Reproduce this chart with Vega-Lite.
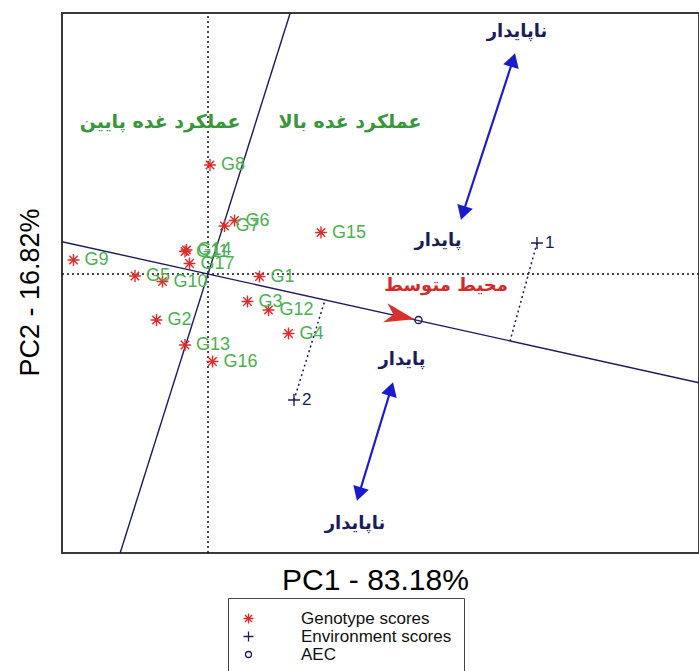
{
  "$schema": "https://vega.github.io/schema/vega-lite/v6.json",
  "width": 637,
  "height": 540,
  "autosize": {"type": "none"},
  "padding": {"left": 62, "top": 13, "right": 0, "bottom": 118},
  "background": "white",
  "config": {
    "view": {"stroke": "#3a3a3a", "strokeWidth": 2},
    "font": "Liberation Sans"
  },
  "datasets": {
    "points": [
      {"label": "G1", "x": 1.03, "y": -0.05, "type": "Genotype scores"},
      {"label": "G2", "x": -1.03, "y": -0.92, "type": "Genotype scores"},
      {"label": "G3", "x": 0.79, "y": -0.55, "type": "Genotype scores"},
      {"label": "G4", "x": 1.61, "y": -1.19, "type": "Genotype scores"},
      {"label": "G5", "x": -1.46, "y": -0.04, "type": "Genotype scores"},
      {"label": "G6", "x": 0.53, "y": 1.07, "type": "Genotype scores"},
      {"label": "G7", "x": 0.33, "y": 0.96, "type": "Genotype scores"},
      {"label": "G8", "x": 0.04, "y": 2.18, "type": "Genotype scores"},
      {"label": "G9", "x": -2.69, "y": 0.28, "type": "Genotype scores"},
      {"label": "G10", "x": -0.91, "y": -0.15, "type": "Genotype scores"},
      {"label": "G11", "x": -0.46, "y": 0.45, "type": "Genotype scores"},
      {"label": "G12", "x": 1.21, "y": -0.72, "type": "Genotype scores"},
      {"label": "G13", "x": -0.46, "y": -1.42, "type": "Genotype scores"},
      {"label": "G14", "x": -0.43, "y": 0.48, "type": "Genotype scores"},
      {"label": "G15", "x": 2.26, "y": 0.83, "type": "Genotype scores"},
      {"label": "G16", "x": 0.09, "y": -1.75, "type": "Genotype scores"},
      {"label": "G17", "x": -0.37, "y": 0.21, "type": "Genotype scores"},
      {"label": "1", "x": 6.58, "y": 0.62, "type": "Environment scores"},
      {"label": "2", "x": 1.72, "y": -2.52, "type": "Environment scores"},
      {"label": "", "x": 4.21, "y": -0.92, "type": "AEC"}
    ],
    "aecAxes": [
      {"line": "AEC abscissa", "x": -2.92, "y": 0.646, "x2": 9.82, "y2": -2.174},
      {"line": "AEC ordinate", "x": 1.644, "y": 5.22, "x2": -1.757, "y2": -5.58}
    ],
    "projections": [
      {"env": "1", "x": 6.58, "y": 0.62, "x2": 6.04, "y2": -1.34},
      {"env": "2", "x": 1.72, "y": -2.52, "x2": 2.34, "y2": -0.52}
    ],
    "origin": [
      {"line": "vertical", "x": 0, "y": -5.58, "x2": 0, "y2": 5.22},
      {"line": "horizontal", "x": -2.92, "y": 0, "x2": 9.82, "y2": 0}
    ],
    "arrows": [
      {"arrow": "upper", "x": 5.10, "y": 1.22, "x2": 6.10, "y2": 4.28},
      {"arrow": "lower", "x": 3.02, "y": -4.40, "x2": 3.66, "y2": -2.30}
    ],
    "stability": [
      {"text": "ناپایدار", "x": 6.18, "y": 4.84},
      {"text": "پایدار", "x": 4.60, "y": 0.66},
      {"text": "پایدار", "x": 3.88, "y": -1.72},
      {"text": "ناپایدار", "x": 2.94, "y": -5.00}
    ],
    "yieldNotes": [
      {"text": "عملکرد غده پایین", "x": -0.96, "y": 3.04},
      {"text": "عملکرد غده بالا", "x": 2.84, "y": 3.04}
    ],
    "meanNote": [
      {"text": "محیط متوسط", "x": 4.76, "y": -0.24}
    ],
    "aecArrow": [
      {"x": 3.84, "y": -0.84}
    ]
  },
  "encoding": {
    "x": {
      "field": "x", "type": "quantitative",
      "scale": {"domain": [-2.92, 9.82], "nice": false, "zero": false},
      "axis": {
        "title": "PC1 - 83.18%", "labels": false, "ticks": false, "domain": false, "grid": false,
        "titleFont": "Liberation Sans", "titleFontSize": 30, "titleFontWeight": "normal", "titleColor": "#000000",
        "titleX": 313, "titleY": 36, "titleBaseline": "alphabetic", "titleAlign": "center"
      }
    },
    "y": {
      "field": "y", "type": "quantitative",
      "scale": {"domain": [-5.58, 5.22], "nice": false, "zero": false},
      "axis": {
        "title": "PC2 - 16.82%", "labels": false, "ticks": false, "domain": false, "grid": false,
        "titleFont": "Liberation Sans", "titleFontSize": 27, "titleFontWeight": "normal", "titleColor": "#000000",
        "titleX": -24, "titleY": 279, "titleAngle": 270, "titleBaseline": "alphabetic", "titleAlign": "center"
      }
    }
  },
  "layer": [
    {
      "data": {"name": "origin"},
      "mark": {"type": "rule", "color": "#111111", "strokeWidth": 1.5, "strokeDash": [2, 3]},
      "encoding": {"x2": {"field": "x2"}, "y2": {"field": "y2"}}
    },
    {
      "data": {"name": "aecAxes"},
      "mark": {"type": "rule", "color": "#1c1c5a", "strokeWidth": 1.4},
      "encoding": {"x2": {"field": "x2"}, "y2": {"field": "y2"}}
    },
    {
      "data": {"name": "projections"},
      "mark": {"type": "rule", "color": "#1c1c5a", "strokeWidth": 1.5, "strokeDash": [2, 3]},
      "encoding": {"x2": {"field": "x2"}, "y2": {"field": "y2"}}
    },
    {
      "data": {"name": "arrows"},
      "mark": {"type": "rule", "color": "#1a1ad0", "strokeWidth": 2.2},
      "encoding": {"x2": {"field": "x2"}, "y2": {"field": "y2"}}
    },
    {
      "data": {"name": "arrows"},
      "mark": {"type": "point", "shape": "triangle-down", "filled": true, "color": "#1a1ad0", "size": 260, "angle": 17, "opacity": 1}
    },
    {
      "data": {"name": "arrows"},
      "mark": {"type": "point", "shape": "triangle-up", "filled": true, "color": "#1a1ad0", "size": 260, "angle": 17, "opacity": 1},
      "encoding": {"x": {"field": "x2", "type": "quantitative"}, "y": {"field": "y2", "type": "quantitative"}}
    },
    {
      "data": {"name": "aecArrow"},
      "mark": {"type": "point", "shape": "M1,0L-1,-0.65L-0.45,0L-1,0.65Z", "filled": true, "color": "#d9302f", "size": 900, "angle": 12.5, "opacity": 1}
    },
    {
      "data": {"name": "points"},
      "mark": {"type": "point", "filled": false, "strokeWidth": 1.4, "size": 140, "opacity": 1},
      "encoding": {
        "shape": {
          "field": "type", "type": "nominal",
          "scale": {
            "domain": ["Genotype scores", "Environment scores", "AEC"],
            "range": ["M-1,0L1,0M0,-1L0,1M-0.71,-0.71L0.71,0.71M-0.71,0.71L0.71,-0.71", "M-1,0L1,0M0,-1L0,1", "M-0.6,0A0.6,0.6 0 1,0 0.6,0A0.6,0.6 0 1,0 -0.6,0"]
          },
          "legend": {
            "orient": "none", "legendX": 166, "legendY": 585, "title": null,
            "strokeColor": "#444444", "fillColor": "white", "padding": 12,
            "labelFont": "Liberation Sans", "labelFontSize": 17, "labelColor": "#111111", "labelOffset": 44, "labelLimit": 400,
            "symbolSize": 100, "symbolStrokeWidth": 1.3, "rowPadding": 0
          }
        },
        "color": {
          "field": "type", "type": "nominal",
          "scale": {
            "domain": ["Genotype scores", "Environment scores", "AEC"],
            "range": ["#e02a2a", "#1c1c5a", "#1c1c5a"]
          },
          "legend": {
            "orient": "none", "legendX": 166, "legendY": 585, "title": null,
            "strokeColor": "#444444", "fillColor": "white", "padding": 12,
            "labelFont": "Liberation Sans", "labelFontSize": 17, "labelColor": "#111111", "labelOffset": 44, "labelLimit": 400,
            "symbolSize": 100, "symbolStrokeWidth": 1.3, "rowPadding": 0
          }
        }
      }
    },
    {
      "data": {"name": "points"},
      "transform": [{"filter": "datum.type == 'Genotype scores'"}],
      "mark": {"type": "text", "align": "left", "baseline": "middle", "dx": 11, "fontSize": 18, "font": "Liberation Sans", "color": "#4cb050"},
      "encoding": {"text": {"field": "label"}}
    },
    {
      "data": {"name": "points"},
      "transform": [{"filter": "datum.type == 'Environment scores'"}],
      "mark": {"type": "text", "align": "left", "baseline": "middle", "dx": 8, "fontSize": 17, "font": "Liberation Sans", "color": "#1c1c5a"},
      "encoding": {"text": {"field": "label"}}
    },
    {
      "data": {"name": "stability"},
      "mark": {"type": "text", "align": "center", "baseline": "middle", "fontSize": 18, "fontWeight": "bold", "font": "DejaVu Sans", "color": "#1c1c5a"},
      "encoding": {"text": {"field": "text"}}
    },
    {
      "data": {"name": "yieldNotes"},
      "mark": {"type": "text", "align": "center", "baseline": "middle", "fontSize": 19, "fontWeight": "bold", "font": "DejaVu Sans", "color": "#37963a"},
      "encoding": {"text": {"field": "text"}}
    },
    {
      "data": {"name": "meanNote"},
      "mark": {"type": "text", "align": "center", "baseline": "middle", "fontSize": 18, "fontWeight": "bold", "font": "DejaVu Sans", "color": "#d42a2a"},
      "encoding": {"text": {"field": "text"}}
    }
  ]
}
